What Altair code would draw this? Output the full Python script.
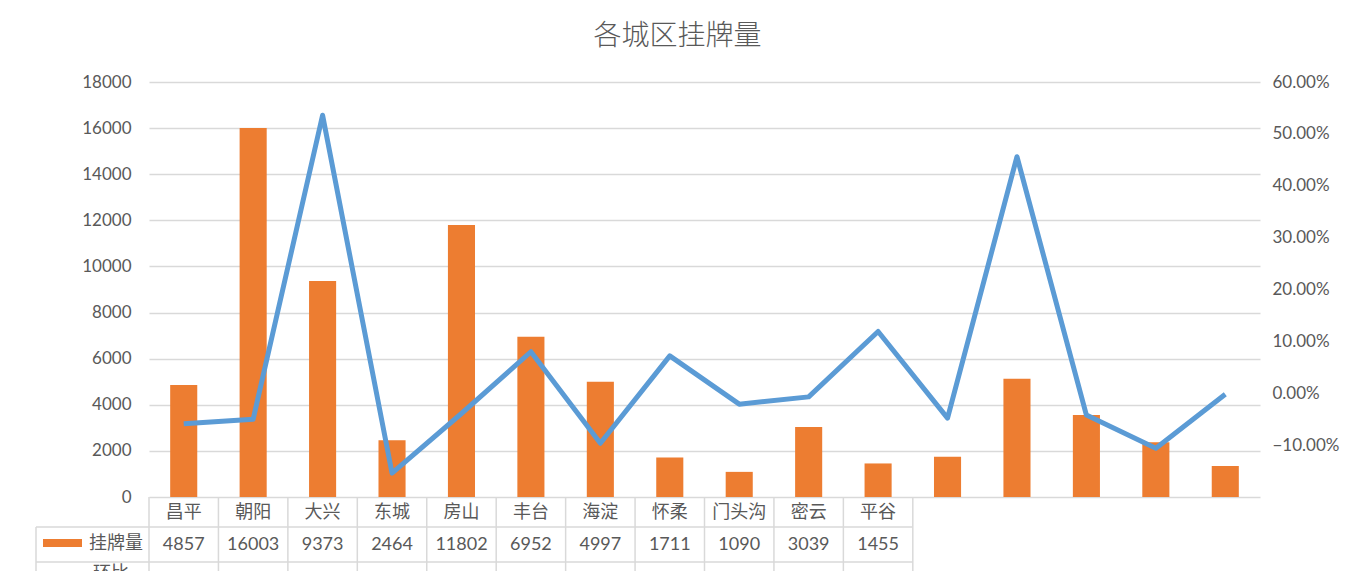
import altair as alt
import pandas as pd

# ---------------- data ----------------
categories = ["昌平", "朝阳", "大兴", "东城", "房山", "丰台", "海淀", "怀柔",
              "门头沟", "密云", "平谷", "石景山", "顺义", "通州", "西城", "延庆"]
listings = [4857, 16003, 9373, 2464, 11802, 6952, 4997, 1711,
            1090, 3039, 1455, 1750, 5130, 3560, 2370, 1345]
mom = [-0.059, -0.050, 0.536, -0.154, -0.039, 0.080, -0.0965, 0.072,
       -0.021, -0.007, 0.119, -0.048, 0.456, -0.042, -0.106, -0.002]
left_ticks = [0, 2000, 4000, 6000, 8000, 10000, 12000, 14000, 16000, 18000]
right_ticks = [-0.1, 0.0, 0.1, 0.2, 0.3, 0.4, 0.5, 0.6]
table_cols = 11          # data-table columns visible in the picture
row_labels = ["挂牌量", "环比"]
title_text = "各城区挂牌量"

# ---------------- styles ----------------
ORANGE = "#ED7D31"
BLUE = "#5B9BD5"
GREY = "#595959"
GRID = "#d9d9d9"
NUM_FONT = "Lato"
CJK_FONT = "Noto Sans CJK SC"

W, H = 1111, 415
N = len(categories)

df = pd.DataFrame({"cat": categories, "count": listings, "mom": mom})
df["idx"] = list(range(N))

xscale = alt.Scale(domain=[0, N], nice=False, zero=False)
yL = alt.Scale(domain=[0, 18000], nice=False)
yR = alt.Scale(domain=[-0.2, 0.6], nice=False)

bars = alt.Chart(df).transform_calculate(
    x0="datum.idx + 0.305", x1="datum.idx + 0.695", base0="0"
).mark_bar(color=ORANGE).encode(
    x=alt.X("x0:Q", scale=xscale, axis=None),
    x2="x1:Q",
    y=alt.Y("count:Q", scale=yL, axis=alt.Axis(
        values=left_ticks, title=None, grid=True, gridColor=GRID, gridWidth=1.5,
        domain=False, ticks=False, labelPadding=18, format="d",
        labelFont=NUM_FONT, labelFontSize=17, labelColor=GREY)),
    y2="base0:Q",
)

line = alt.Chart(df).transform_calculate(
    xc="datum.idx + 0.5"
).mark_line(color=BLUE, strokeWidth=5, strokeJoin="round").encode(
    x=alt.X("xc:Q", scale=xscale, axis=None),
    y=alt.Y("mom:Q", scale=yR, axis=alt.Axis(
        orient="right", values=right_ticks, title=None, grid=False,
        domain=False, ticks=False, labelPadding=12, format=".2%",
        labelFont=NUM_FONT, labelFontSize=17, labelColor=GREY)),
)

tbl = alt.Chart(df).transform_filter(f"datum.idx < {table_cols}").transform_calculate(
    xc="datum.idx + 0.5"
)
cat_text = tbl.mark_text(font=CJK_FONT, fontSize=18, color=GREY).encode(
    x=alt.X("xc:Q", scale=xscale, axis=None), y=alt.value(431), text="cat:N")
num_text = tbl.mark_text(font=NUM_FONT, fontSize=18, color=GREY).encode(
    x=alt.X("xc:Q", scale=xscale, axis=None), y=alt.value(463),
    text=alt.Text("count:Q", format="d"))

edges = pd.DataFrame({"e": list(range(table_cols + 1))})
vrules = alt.Chart(edges).mark_rule(color=GRID, strokeWidth=1.5).encode(
    x=alt.X("e:Q", scale=xscale, axis=None), y=alt.value(H), y2=alt.value(H + 120))

span = pd.DataFrame({"a": [0], "b": [table_cols]})
hr_layers = []
for yy in [445, 480]:
    hr_layers.append(alt.Chart(span).mark_rule(color=GRID, strokeWidth=1.5).encode(
        x=alt.X("a:Q", scale=xscale, axis=None), x2="b:Q", y=alt.value(yy)))
    hr_layers.append(alt.Chart(span).mark_rule(color=GRID, strokeWidth=1.5).encode(
        x=alt.value(-113), x2=alt.value(0), y=alt.value(yy)))
legend_vrule = alt.Chart(span).mark_rule(color=GRID, strokeWidth=1.5).encode(
    x=alt.value(-113), y=alt.value(445), y2=alt.value(H + 120))

lab_df = pd.DataFrame({"label": row_labels, "row": [0, 1]})
row_lab = alt.Chart(lab_df).transform_filter("datum.row == 0").mark_text(
    font=CJK_FONT, fontSize=18, color=GREY, align="right").encode(
    x=alt.value(-6), y=alt.value(462), text="label:N")
row_lab2 = alt.Chart(lab_df).transform_filter("datum.row == 1").mark_text(
    font=CJK_FONT, fontSize=18, color=GREY, align="right", baseline="top").encode(
    x=alt.value(-20), y=alt.value(483), text="label:N")
key_bar = alt.Chart(lab_df).transform_filter("datum.row == 0").mark_rect(color=ORANGE).encode(
    x=alt.value(-106), x2=alt.value(-67), y=alt.value(457), y2=alt.value(465))

chart = alt.layer(
    bars, line, vrules, *hr_layers, legend_vrule,
    cat_text, num_text, row_lab, row_lab2, key_bar
).resolve_scale(y="independent").properties(
    width=W, height=H,
    background="white",
    autosize=alt.AutoSizeParams(type="none"),
    padding={"left": 141, "top": 74, "right": 87, "bottom": 80},
    title=alt.Title(title_text, anchor="middle", dx=-27, offset=22,
                    font=CJK_FONT, fontSize=28, fontWeight=300, color=GREY),
).configure_view(stroke=None)

chart.save("out.html", embed_options={"renderer": "svg", "actions": False})
